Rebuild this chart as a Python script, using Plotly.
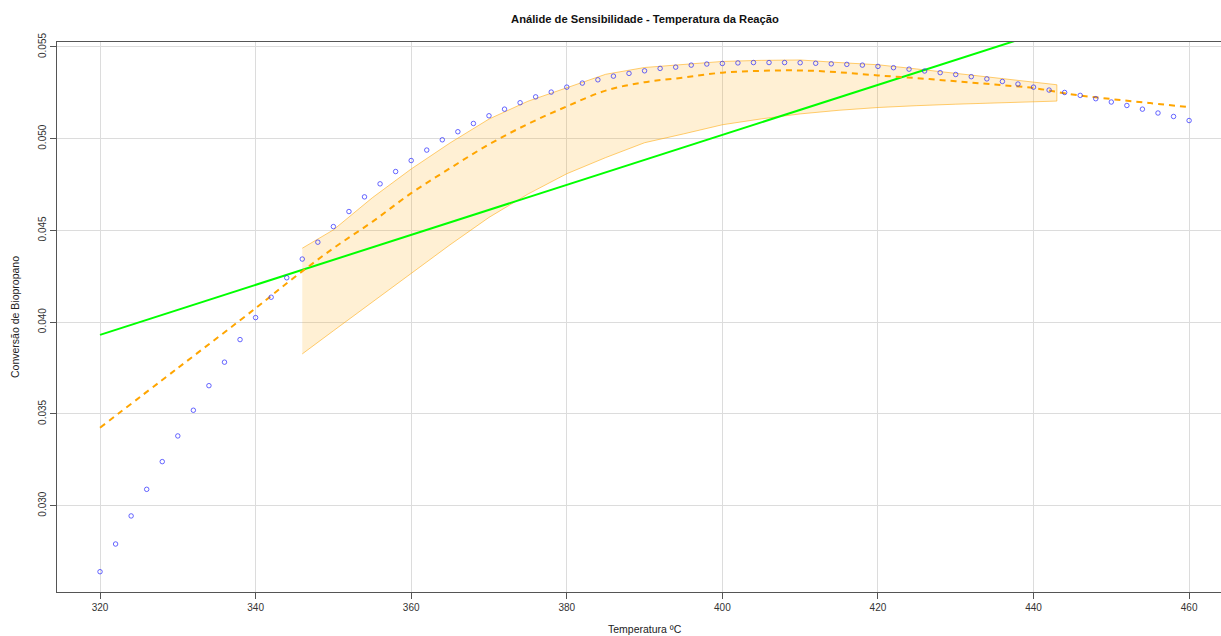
import plotly.graph_objects as go

# ---- data ----
temp = [320, 322, 324, 326, 328, 330, 332, 334, 336, 338,
        340, 342, 344, 346, 348, 350, 352, 354, 356, 358,
        360, 362, 364, 366, 368, 370, 372, 374, 376, 378,
        380, 382, 384, 386, 388, 390, 392, 394, 396, 398,
        400, 402, 404, 406, 408, 410, 412, 414, 416, 418,
        420, 422, 424, 426, 428, 430, 432, 434, 436, 438,
        440, 442, 444, 446, 448, 450, 452, 454, 456, 458, 460]
conv = [0.02640, 0.02791, 0.02944, 0.03089, 0.03240, 0.03380, 0.03520, 0.03654, 0.03782, 0.03905,
        0.04025, 0.04136, 0.04242, 0.04344, 0.04436, 0.04521, 0.04603, 0.04683, 0.04754, 0.04821,
        0.04881, 0.04938, 0.04994, 0.05038, 0.05083, 0.05125, 0.05161, 0.05196, 0.05228, 0.05254,
        0.05281, 0.05303, 0.05321, 0.05341, 0.05356, 0.05370, 0.05383, 0.05390, 0.05401, 0.05407,
        0.05410, 0.05413, 0.05415, 0.05415, 0.05415, 0.05414, 0.05411, 0.05408, 0.05405, 0.05401,
        0.05394, 0.05387, 0.05379, 0.05369, 0.05360, 0.05350, 0.05338, 0.05326, 0.05312, 0.05298,
        0.05281, 0.05265, 0.05252, 0.05236, 0.05218, 0.05200, 0.05181, 0.05161, 0.05140, 0.05121, 0.05099]

lin_x = [320, 460]
lin_y = [0.03931, 0.05838]

fit_x = [320, 330, 340, 345, 350, 355, 360, 365, 370, 375, 380, 385, 390, 395,
         400, 405, 410, 415, 420, 425, 430, 435, 440, 445, 450, 455, 460]
fit_y = [0.03425, 0.03750, 0.04076, 0.04245, 0.04403, 0.04547, 0.04703, 0.04839, 0.04969, 0.05080,
         0.05176, 0.05262, 0.05308, 0.05333, 0.05360, 0.05370, 0.05372, 0.05362, 0.05345, 0.05330,
         0.05313, 0.05295, 0.05276, 0.05241, 0.05216, 0.05194, 0.05172]

band_x = [346, 350, 355, 360, 365, 370, 375, 380, 385, 390, 395,
          400, 405, 410, 415, 420, 425, 430, 435, 440, 443]
band_hi = [0.04403, 0.04503, 0.04678, 0.04835, 0.04977, 0.05107, 0.05204, 0.05276, 0.05351, 0.05388, 0.05406,
           0.05421, 0.05427, 0.05429, 0.05415, 0.05403, 0.05380, 0.05357, 0.05333, 0.05308, 0.05294]
band_lo = [0.03827, 0.03953, 0.04110, 0.04267, 0.04422, 0.04571, 0.04698, 0.04809, 0.04897, 0.04978, 0.05026,
           0.05076, 0.05108, 0.05135, 0.05155, 0.05170, 0.05180, 0.05188, 0.05195, 0.05202, 0.05205]

x_ticks = [320, 340, 360, 380, 400, 420, 440, 460]
y_ticks = [0.030, 0.035, 0.040, 0.045, 0.050, 0.055]

FONT = "Liberation Sans, Arial, Helvetica, sans-serif"

fig = go.Figure()

fig.add_trace(go.Scatter(
    x=band_x + band_x[::-1], y=band_hi + band_lo[::-1],
    fill="toself", fillcolor="rgba(255,165,0,0.17)",
    line=dict(color="rgba(255,165,0,0.55)", width=1),
    mode="lines", hoverinfo="skip", showlegend=False))

fig.add_trace(go.Scatter(
    x=lin_x, y=lin_y, mode="lines",
    line=dict(color="#00FF00", width=2), showlegend=False))

fig.add_trace(go.Scatter(
    x=fit_x, y=fit_y, mode="lines", line_shape="spline",
    line=dict(color="#FFA500", width=2, dash="6px,5px"), showlegend=False))

fig.add_trace(go.Scatter(
    x=temp, y=conv, mode="markers",
    marker=dict(symbol="circle-open", size=4.5, color="rgba(40,40,255,0.7)",
                line=dict(width=1, color="rgba(40,40,255,0.7)")),
    showlegend=False))

fig.update_layout(
    width=1221, height=636,
    margin=dict(l=57, r=0, t=42, b=44, autoexpand=False),
    paper_bgcolor="white", plot_bgcolor="white",
    font=dict(family=FONT, size=10, color="#333333"),
    title=dict(text="<b>Análide de Sensibilidade - Temperatura da Reação</b>",
               x=645 / 1221, xanchor="center", y=1 - 19 / 636, yanchor="middle",
               font=dict(family=FONT, size=11.2, color="#111111")),
    xaxis=dict(range=[314.47, 464.1], tickvals=x_ticks, ticks="outside", ticklen=6,
               tickcolor="#555555", showline=True, linecolor="#555555", linewidth=1,
               mirror=True, showgrid=True, gridcolor="#DCDCDC", gridwidth=1,
               zeroline=False, tickfont=dict(size=10, color="#333333")),
    yaxis=dict(range=[0.025294, 0.055270], tickvals=y_ticks, tickformat=".3f",
               ticks="outside", ticklen=6, tickcolor="#555555", tickangle=-90,
               showline=True, linecolor="#555555", linewidth=1, mirror=False,
               showgrid=True, gridcolor="#DCDCDC", gridwidth=1, zeroline=False,
               tickfont=dict(size=10, color="#333333")),
    annotations=[
        dict(text="Temperatura ºC", xref="paper", yref="paper",
             x=(645 - 57) / 1164, y=(592 - 629) / 550, xanchor="center", yanchor="middle",
             showarrow=False, font=dict(family=FONT, size=10.5, color="#222222")),
        dict(text="Conversão de Biopropano", xref="paper", yref="paper",
             x=(15 - 57) / 1164, y=0.5, xanchor="center", yanchor="middle", textangle=-90,
             showarrow=False, font=dict(family=FONT, size=10.5, color="#222222")),
    ],
)

fig.write_html("out.html", config={"displayModeBar": False},
               post_script="document.body.style.margin='0';")
